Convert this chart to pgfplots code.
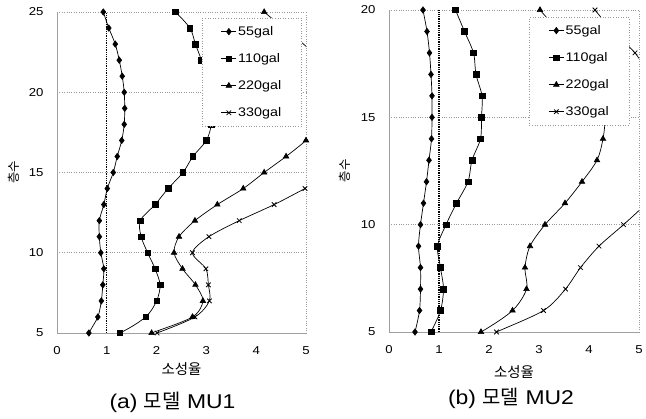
\documentclass[border=0pt]{standalone}
\usepackage{fontspec}
\setmainfont{Liberation Sans}[FakeStretch=1.15]
\newfontfamily\kr{Noto Sans CJK KR}
\usepackage{pgfplots}
\pgfplotsset{compat=1.18}

\pgfplotsset{
  duct/.style={
    scale only axis, xmin=0, xmax=5, ymin=5,
    xtick={0,1,2,3,4,5},
    axis x line*=bottom, axis y line*=left,
    axis line style={-, gray!75, line width=0.6bp},
    major tick length=0pt,
    ymajorgrids, major grid style={gray!80, dotted, line width=0.6bp},
    extra x ticks={5}, extra x tick labels={},
    extra x tick style={grid=major},
    tick label style={font=\fontsize{11.5}{13}\selectfont, text=black},
    /pgf/number format/assume math mode=true,
    xticklabel style={yshift=-10bp},
    yticklabel style={xshift=-10bp},
    clip=true,
    legend cell align=left,
    legend style={draw=gray!80, dotted, line width=0.6bp, fill=white,
      font=\normalfont\fontsize{12.5}{14}\selectfont,
      inner xsep=19bp, inner ysep=6.5bp, row sep=13.5bp,
      nodes={inner sep=1.5bp}},
    legend image code/.code={%
      \draw[black, solid, line width=0.7bp] (0bp,0bp) -- (15bp,0bp);
      \draw plot coordinates {(7.5bp,0bp)};},
  },
  % smoothed connecting curve of a series (includes the parts leaving the frame)
  crv/.style={black, solid, line width=0.7bp, smooth, tension=0.5, no marks, forget plot},
  mk/.style={black, only marks, mark options={solid, fill=black, line width=0.6bp}},
  m55/.style={mk, mark=diamond*, mark size=3.2bp},
  m110/.style={mk, mark=square*, mark size=2.8bp},
  m220/.style={mk, mark=triangle*, mark size=3.2bp},
  m330/.style={mk, mark=x, mark size=3.2bp, mark options={solid, line width=0.8bp}},
  unity/.style={black, densely dotted, line width=1.3bp, forget plot},
}

\begin{document}
\begin{tikzpicture}
\path[use as bounding box] (0,0) rectangle (646bp,419bp);

% ---------------- (a) MU1 ----------------
\begin{axis}[duct, name=A, at={(57bp,86bp)}, anchor=south west,
  width=249bp, height=321bp, ymax=25, ytick={5,10,15,20,25},
  legend style={at={(0.984,0.981)}, anchor=north east}]
\addplot[unity] coordinates {(1,5) (1,25)};
% 55gal
\addplot[crv] coordinates {
 (0.50,4) (0.64,5) (0.82,6) (0.89,7) (0.92,8) (0.94,9) (0.88,10) (0.85,11) (0.85,12)
 (0.94,13) (1.01,14) (1.13,15) (1.21,16) (1.30,17) (1.35,18) (1.36,19) (1.35,20)
 (1.31,21) (1.25,22) (1.17,23) (1.04,24) (0.93,25)};
\addplot[m55] coordinates {
 (0.64,5) (0.82,6) (0.89,7) (0.92,8) (0.94,9) (0.88,10) (0.85,11) (0.85,12)
 (0.94,13) (1.01,14) (1.13,15) (1.21,16) (1.30,17) (1.35,18) (1.36,19) (1.35,20)
 (1.31,21) (1.25,22) (1.17,23) (1.04,24) (0.93,25)};
\addlegendentry{55gal}
% 110gal
\addplot[crv] coordinates {
 (0.40,4) (1.26,5) (1.78,6) (2.00,7) (2.07,8) (1.97,9) (1.82,10) (1.69,11) (1.67,12)
 (1.97,13) (2.23,14) (2.53,15) (2.73,16) (3.00,17) (3.10,18) (3.10,19) (3.05,20)
 (3.00,21) (2.90,22) (2.78,23) (2.67,24) (2.38,25)};
\addplot[m110] coordinates {
 (1.26,5) (1.78,6) (2.00,7) (2.07,8) (1.97,9) (1.82,10) (1.69,11) (1.67,12)
 (1.97,13) (2.23,14) (2.53,15) (2.73,16) (3.00,17) (3.10,18) (3.10,19) (3.05,20)
 (3.00,21) (2.90,22) (2.78,23) (2.67,24) (2.38,25)};
\addlegendentry{110gal}
% 220gal
\addplot[crv] coordinates {
 (1.00,4) (1.90,5) (2.72,6) (2.93,7) (2.78,8) (2.52,9) (2.35,10) (2.45,11) (2.77,12)
 (3.22,13) (3.74,14) (4.16,15) (4.60,16) (5.00,17) (5.30,18) (5.60,19) (5.70,20)
 (5.60,21) (5.30,22) (4.95,23) (4.55,24) (4.16,25)};
\addplot[m220] coordinates {
 (1.90,5) (2.72,6) (2.93,7) (2.78,8) (2.52,9) (2.35,10) (2.45,11) (2.77,12)
 (3.22,13) (3.74,14) (4.16,15) (4.60,16) (5.00,17) (4.16,25)};
\addlegendentry{220gal}
% 330gal
\addplot[crv] coordinates {
 (1.10,4) (2.01,5) (2.77,6) (3.06,7) (3.04,8) (2.99,9) (2.72,10) (3.05,11) (3.66,12)
 (4.36,13) (4.98,14) (5.60,15) (6.10,16) (6.40,17) (6.50,18) (6.50,19) (6.40,20)
 (6.30,21) (6.20,22) (6.10,23) (6.00,24) (6.00,25)};
\addplot[m330] coordinates {
 (2.01,5) (2.77,6) (3.06,7) (3.04,8) (2.99,9) (2.72,10) (3.05,11) (3.66,12)
 (4.36,13) (4.98,14)};
\addlegendentry{330gal}
\end{axis}

% ---------------- (b) MU2 ----------------
\begin{axis}[duct, name=B, at={(389bp,87bp)}, anchor=south west,
  width=250bp, height=322bp, ymax=20, ytick={5,10,15,20},
  legend style={at={(0.962,0.978)}, anchor=north east}]
\addplot[unity] coordinates {(1,5) (1,20)};
% 55gal
\addplot[crv] coordinates {
 (0.40,4) (0.52,5) (0.61,6) (0.63,7) (0.63,8) (0.59,9) (0.63,10) (0.69,11) (0.75,12)
 (0.80,13) (0.85,14) (0.86,15) (0.86,16) (0.84,17) (0.81,18) (0.76,19) (0.68,20)};
\addplot[m55] coordinates {
 (0.52,5) (0.61,6) (0.63,7) (0.63,8) (0.59,9) (0.63,10) (0.69,11) (0.75,12)
 (0.80,13) (0.85,14) (0.86,15) (0.86,16) (0.84,17) (0.81,18) (0.76,19) (0.68,20)};
\addlegendentry{55gal}
% 110gal
\addplot[crv] coordinates {
 (0.60,4) (0.84,5) (1.03,6) (1.09,7) (1.03,8) (0.97,9) (1.14,10) (1.35,11) (1.58,12)
 (1.66,13) (1.83,14) (1.85,15) (1.86,16) (1.74,17) (1.69,18) (1.51,19) (1.33,20)};
\addplot[m110] coordinates {
 (0.84,5) (1.03,6) (1.09,7) (1.03,8) (0.97,9) (1.14,10) (1.35,11) (1.58,12)
 (1.66,13) (1.83,14) (1.85,15) (1.86,16) (1.74,17) (1.69,18) (1.51,19) (1.33,20)};
\addlegendentry{110gal}
% 220gal
\addplot[crv] coordinates {
 (1.00,4) (1.84,5) (2.47,6) (2.75,7) (2.72,8) (2.82,9) (3.12,10) (3.52,11) (3.86,12)
 (4.16,13) (4.28,14) (4.32,15) (4.25,16) (4.10,17) (3.80,18) (3.40,19) (3.02,20)};
\addplot[m220] coordinates {
 (1.84,5) (2.47,6) (2.75,7) (2.72,8) (2.82,9) (3.12,10) (3.52,11) (3.86,12)
 (4.16,13) (4.28,14) (3.02,20)};
\addlegendentry{220gal}
% 330gal
\addplot[crv] coordinates {
 (1.20,4) (2.15,5) (3.09,6) (3.53,7) (3.83,8) (4.20,9) (4.69,10) (5.15,11) (5.50,12)
 (5.70,13) (5.75,14) (5.70,15) (5.50,16) (5.20,17) (4.92,18) (4.48,19) (4.12,20)};
\addplot[m330] coordinates {
 (2.15,5) (3.09,6) (3.53,7) (3.83,8) (4.20,9) (4.69,10) (4.92,18) (4.12,20)};
\addlegendentry{330gal}
\end{axis}

% axis titles and captions
\node[font=\kr\fontsize{14.5}{16}\selectfont] at ([yshift=-36bp]A.south) {소성율};
\node[font=\kr\fontsize{14.5}{16}\selectfont] at ([yshift=-40bp]B.south) {소성율};
\node[rotate=90, font=\kr\fontsize{12.5}{14}\selectfont] at ([xshift=-43bp]A.west) {층수};
\node[rotate=90, font=\kr\fontsize{12.5}{14}\selectfont] at ([xshift=-44bp]B.west) {층수};
\node[font=\fontsize{20}{22}\selectfont] at ([xshift=-9bp, yshift=-69bp]A.south) {(a) {\kr 모델} MU1};
\node[font=\fontsize{20}{22}\selectfont] at ([xshift=-3bp, yshift=-66bp]B.south) {(b) {\kr 모델} MU2};
\end{tikzpicture}
\end{document}
